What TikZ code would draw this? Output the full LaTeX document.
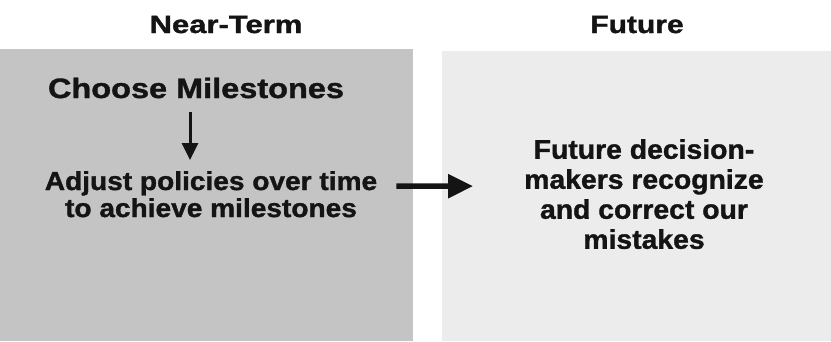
\documentclass[tikz,border=0pt]{standalone}
\usepackage{fontspec}
\setmainfont{Liberation Sans}[BoldFeatures={FakeBold=1.2}]
\usetikzlibrary{arrows.meta}
\definecolor{nearfill}{RGB}{196,196,196}
\definecolor{futurefill}{RGB}{236,236,236}
\definecolor{ink}{RGB}{20,20,20}
\newcommand{\hst}[2]{\scalebox{#1}[1]{#2}}
\begin{document}
\begin{tikzpicture}[x=1pt,y=-1pt,
  panel/.style={draw=none, inner sep=0pt, outer sep=0pt, anchor=north west},
  titletext/.style={font=\bfseries\fontsize{25}{28}\selectfont, text=ink, inner sep=0pt, anchor=base},
  choosetext/.style={font=\bfseries\fontsize{28}{30}\selectfont, text=ink, inner sep=0pt, anchor=base},
  bodytext/.style={font=\bfseries\fontsize{26}{27}\selectfont, text=ink, inner sep=0pt, align=center, anchor=north},
  futuretext/.style={font=\bfseries\fontsize{27}{30}\selectfont, text=ink, inner sep=0pt, align=center, anchor=north},
  downarrow/.style={draw=ink, line width=3pt, -{Triangle[length=17pt,width=16pt]}},
  rightarrow/.style={draw=ink, line width=5.5pt, -{Triangle[length=25pt,width=23pt]}}]
\useasboundingbox (0,0) rectangle (831,341);
\fill[white] (0,0) rectangle (831,341);
\node[panel, fill=nearfill, minimum width=413pt, minimum height=292pt] (nearbox) at (0,49) {};
\node[panel, fill=futurefill, minimum width=389pt, minimum height=290pt] (futurebox) at (442,51) {};
\node[titletext] (nearterm) at (226,33) {\hst{1.24}{Near-Term}};
\node[titletext] (futuretitle) at (637,33) {\hst{1.2}{Future}};
\node[choosetext] (choose) at (196,98) {\hst{1.16}{Choose Milestones}};
\node[bodytext] (adjust) at (211,171) {\hst{1.08}{Adjust policies over time}\\\hst{1.08}{to achieve milestones}};
\node[futuretext] (future) at (644,139) {\hst{1.05}{Future decision-}\\\hst{1.05}{makers recognize}\\\hst{1.05}{and correct our}\\\hst{1.05}{mistakes}};
\draw[downarrow, shorten <=14pt, shorten >=11pt] ([xshift=-6pt]choose.south) -- ([xshift=-21pt]adjust.north);
\draw[rightarrow, shorten <=19pt, shorten >=51pt] ([yshift=8pt]adjust.east) -- ([yshift=8pt]future.west);
\end{tikzpicture}
\end{document}
